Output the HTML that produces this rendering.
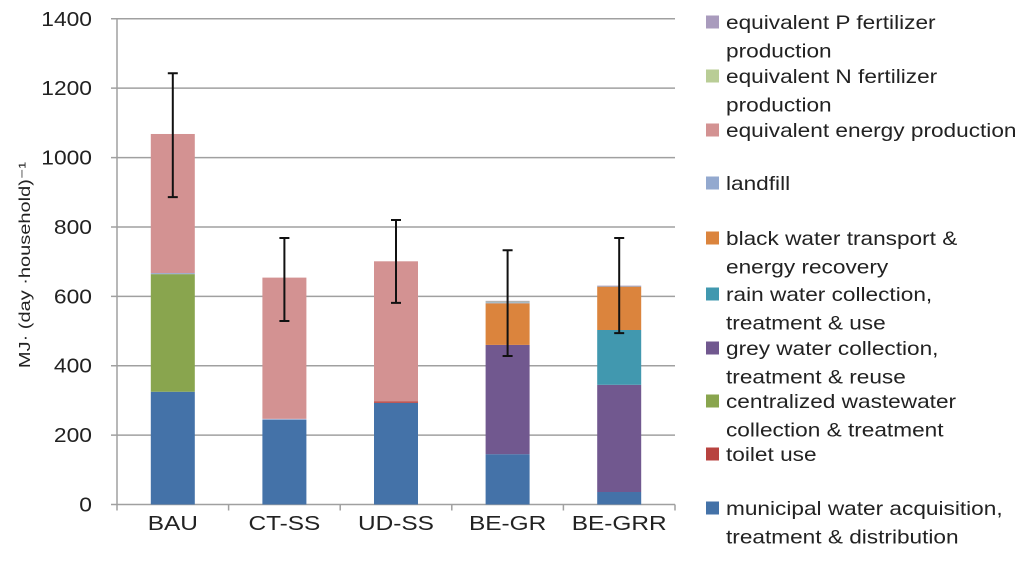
<!DOCTYPE html>
<html><head><meta charset="utf-8"><style>
html,body{margin:0;padding:0;background:#fff;}
svg text{font-family:"Liberation Sans",sans-serif;fill:#222;}
</style></head><body>
<svg id="chart" width="1024" height="568" xmlns="http://www.w3.org/2000/svg">
<g id="grid"></g><g id="bars"></g><g id="errs"></g><g id="axes"></g><g id="legend"></g>
<text id="ytitle" transform="translate(30,265) rotate(-90)" text-anchor="middle" font-size="16">MJ· (day ·household)⁻¹</text>
</svg>
<script>
const categories=["BAU","CT-SS","UD-SS","BE-GR","BE-GRR"];
const seriesNames=["municipal water acquisition, treatment & distribution","toilet use","centralized wastewater collection & treatment","grey water collection, treatment & reuse","rain water collection, treatment & use","black water transport & energy recovery","landfill","equivalent energy production","equivalent N fertilizer production","equivalent P fertilizer production"];
const seriesColors=["#4472a8","#b84340","#89a54e","#71588f","#4198af","#db843d","#93a9cf","#d39292","#b9cd96","#a99bbd"];
const municipal=[325,244,293,145,36];
const toilet=[0,0,4,0,0];
const centralized=[339,0,0,0,0];
const grey=[0,0,0,315,309];
const rain=[0,0,0,0,158];
const black=[0,0,0,120,125];
const landfill=[3,3,0,3,2];
const energy=[401,407,404,0,0];
const nFert=[0,0,0,2,0];
const pFert=[0,0,0,2,1];
const errHigh=[1243,768,820,733,768];
const errLow=[886,529,581,428,494];
const yTicks=[0,200,400,600,800,1000,1200,1400];
const series=[municipal,toilet,centralized,grey,rain,black,landfill,energy,nFert,pFert];
const NS="http://www.w3.org/2000/svg";
const x0=117,x1=675,y0=504.5,yTop=18.8,yMax=1400;
const y=v=>y0-(v/yMax)*(y0-yTop);
const band=(x1-x0)/categories.length;
const xc=i=>x0+band*(i+0.5);
const bw=44;
function mk(p,t,a){const e=document.createElementNS(NS,t);for(const k in a)e.setAttribute(k,a[k]);p.appendChild(e);return e;}
function stretch(e,f){const w=e.getComputedTextLength();e.setAttribute('textLength',w*f);e.setAttribute('lengthAdjust','spacingAndGlyphs');}
const G=id=>document.getElementById(id);
yTicks.forEach(t=>{
  const l=mk(G('grid'),'line',{x1:x0-6,x2:x1,y1:y(t),y2:y(t),stroke:'#a0a0a0','stroke-width':1.5});
  
  
  const tx=mk(G('axes'),'text',{x:92,y:y(t)+7,'text-anchor':'end','font-size':20});
  tx.textContent=t;
  
  
  stretch(tx,1.14);
});
mk(G('axes'),'line',{x1:x0,x2:x0,y1:yTop,y2:y0,stroke:'#a0a0a0','stroke-width':1.5});
for(let i=0;i<=categories.length;i++){
  const tk=mk(G('axes'),'line',{x1:x0+band*i,x2:x0+band*i,y1:y0,y2:y0+6,stroke:'#a0a0a0','stroke-width':1.5});
  
  
}
categories.forEach((c,i)=>{
  const tx=mk(G('axes'),'text',{x:xc(i),y:530,'text-anchor':'middle','font-size':20});
  tx.textContent=c;
  
  
  stretch(tx,1.22);
  let acc=0;
  series.forEach((s,j)=>{
    const v=s[i]; if(!v) return;
    const r=mk(G('bars'),'rect',{x:xc(i)-bw/2,y:y(acc+v),width:bw,height:y(acc)-y(acc+v),fill:seriesColors[j]});
    
    
    acc+=v;
  });
  const e=mk(G('errs'),'path',{d:`M${xc(i)},${y(errHigh[i])}V${y(errLow[i])}M${xc(i)-5},${y(errHigh[i])}h10M${xc(i)-5},${y(errLow[i])}h10`,stroke:'#111','stroke-width':2,fill:'none'});
  
  
});
stretch(G('ytitle'),1.25);
const legendItems=[
 [9,["equivalent P fertilizer","production"],22],
 [8,["equivalent N fertilizer","production"],76],
 [7,["equivalent energy production"],130],
 [6,["landfill"],183],
 [5,["black water transport &","energy recovery"],238],
 [4,["rain water collection,","treatment & use"],294],
 [3,["grey water collection,","treatment & reuse"],348],
 [2,["centralized wastewater","collection & treatment"],401],
 [1,["toilet use"],454],
 [0,["municipal water acquisition,","treatment & distribution"],508]];
legendItems.forEach(([j,lines,ly])=>{
  const g=mk(G('legend'),'g',{});
  
  
  mk(g,'rect',{x:706,y:ly-6.5,width:13,height:13,fill:seriesColors[j]});
  lines.forEach((t,k)=>{const tx=mk(g,'text',{x:726,y:ly+7+k*28.5,'font-size':19.5});tx.textContent=t;stretch(tx,1.16);});
});
</script>
</body></html>
